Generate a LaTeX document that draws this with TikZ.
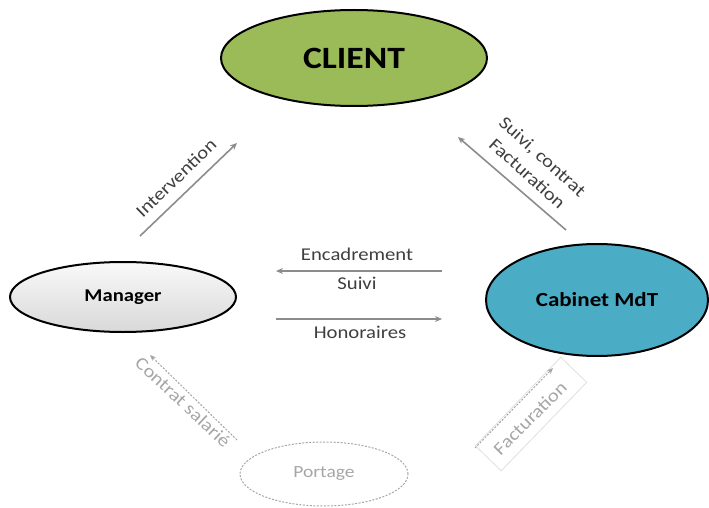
\documentclass[tikz,border=0pt]{standalone}
\usepackage{fontspec}
\setmainfont{Carlito}[FakeStretch=1.15]
\usetikzlibrary{shapes.geometric,arrows.meta}
\definecolor{cgreen}{HTML}{9BBB59}
\definecolor{cblue}{HTML}{4BACC6}
\definecolor{arr}{HTML}{8C8C8C}
\definecolor{lbl}{HTML}{3F3F3F}
\definecolor{faint}{HTML}{A6A6A6}
\tikzset{
  ell/.style={ellipse, draw=black, line width=2pt, inner sep=0pt},
  conn/.style={draw=arr, line width=1.6pt, -{Stealth[length=7pt,width=6pt]}},
  dconn/.style={draw=faint, line width=1pt, dash pattern=on 2pt off 1.5pt, -{Stealth[length=6pt,width=5pt]}},
  lab/.style={text=lbl, font=\fontsize{18}{23}\selectfont, inner sep=0pt, align=center},
  flab/.style={text=faint, font=\fontsize{18}{23}\selectfont, inner sep=0pt, align=center}
}
\begin{document}
\begin{tikzpicture}[x=1pt,y=-1pt]
\useasboundingbox (0,0) rectangle (709,508);
% main nodes
\node[ell, fill=cgreen, minimum width=266pt, minimum height=96pt] (client) at (354,58) {\fontsize{31}{31}\selectfont\bfseries CLIENT};
\node[ell, top color=gray!5, bottom color=gray!30, minimum width=226pt, minimum height=70pt] (manager) at (123,297) {\fontsize{18}{18}\selectfont\bfseries Manager};
\node[ell, fill=cblue, minimum width=222pt, minimum height=112pt] (cabinet) at (597,300) {\fontsize{20}{20}\selectfont\bfseries Cabinet MdT};
\node[ellipse, draw=faint, line width=1pt, dash pattern=on 2pt off 1.5pt, minimum width=168pt, minimum height=64pt, inner sep=0pt] (portage) at (324,474) {\fontsize{17}{17}\selectfont\color{faint}Portage};
% Intervention
\coordinate (i1) at (140,236); \coordinate (i2) at (237,143);
\draw[conn] (i1) -- (i2);
\node[lab, rotate=44] (intlab) at (176,178) {Intervention};
% Suivi, contrat / Facturation
\coordinate (s1) at (566,230); \coordinate (s2) at (458,137);
\draw[conn] (s1) -- (s2);
\node[lab, rotate=-42] (suivilab) at (535,165) {Suivi, contrat\\Facturation};
% Encadrement / Suivi
\coordinate (e1) at (442,271); \coordinate (e2) at (276,271);
\draw[conn] (e1) -- (e2);
\node[lab] (enclab) at (357,254) {Encadrement};
\node[lab] (suivi2lab) at (357,283) {Suivi};
% Honoraires
\coordinate (h1) at (276,319); \coordinate (h2) at (442,319);
\draw[conn] (h1) -- (h2);
\node[lab] (honlab) at (360,332) {Honoraires};
% Contrat salarie
\coordinate (c1) at (237,440); \coordinate (c2) at (150,355);
\draw[dconn] (c1) -- (c2);
\node[flab, rotate=-43] (contlab) at (183,402) {Contrat salarié};
% Facturation (bottom)
\node[draw=gray!25, line width=0.8pt, rotate=46, minimum width=123pt, minimum height=36pt] (fbox) at (531,414) {};
\coordinate (f1) at (475,448); \coordinate (f2) at (553,368);
\draw[dconn] (f1) -- (f2);
\node[flab, rotate=45] (factlab) at (530,418) {Facturation};
\end{tikzpicture}
\end{document}
